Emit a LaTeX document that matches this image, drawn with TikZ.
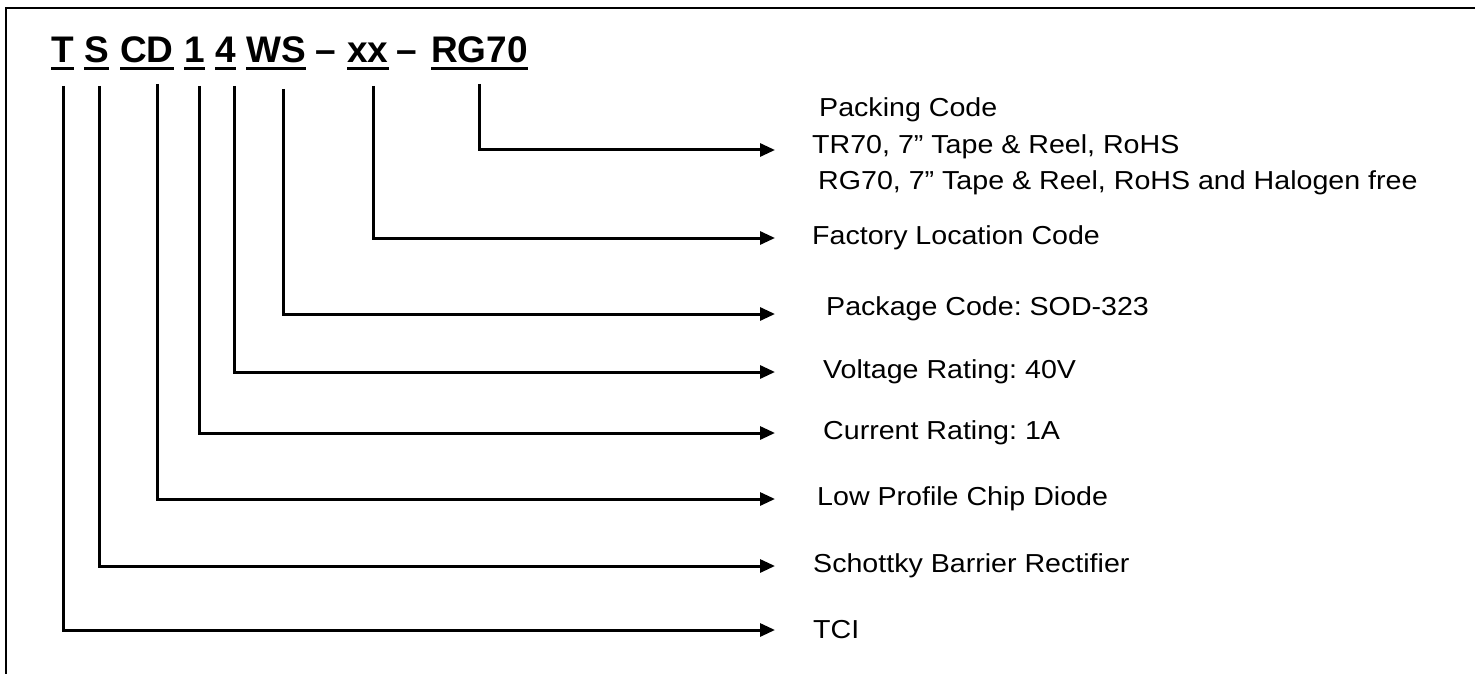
\documentclass[tikz,border=0pt]{standalone}
\usepackage{fontspec}
\setmainfont{Liberation Sans}
\newfontfamily\labfont{Liberation Sans}[FakeStretch=1.1]
\usetikzlibrary{arrows.meta}
\frenchspacing
\begin{document}
\begin{tikzpicture}[x=1pt,y=-1pt,
  code/.style={anchor=base west, inner sep=0pt, font=\fontsize{37}{40}\selectfont\bfseries},
  lab/.style={anchor=west, inner sep=0pt, font=\fontsize{26}{30}\labfont},
  conn/.style={line width=3pt, -{Triangle[length=15pt,width=13pt]}},
  uline/.style={line width=3pt},
  frame/.style={line width=2pt}]
\useasboundingbox (0,0) rectangle (1475,674);
\draw[frame] (6,674) -- (6,8) -- (1475,8);
% code segments
\node[code] (cT)  at (51,63)  {T};
\node[code] (cS)  at (84,63)  {S};
\node[code] (cCD) at (120,63) {CD};
\node[code] (c1)  at (184,63) {1};
\node[code] (c4)  at (215,63) {4};
\node[code] (cWS) at (246,63) {WS};
\node[code] (d1)  at (315,63) {–};
\node[code] (cxx) at (347,63) {xx};
\node[code] (d2)  at (396,63) {–};
\node[code] (cRG) at (431,63) {RG70};
\foreach \n in {cT,cS,cCD,c1,c4,cWS,cxx,cRG}
  \draw[uline] (\n.west |- 0,69) -- (\n.east |- 0,69);
% stub tops
\coordinate (sT)  at (63,86);
\coordinate (sS)  at (99,86);
\coordinate (sCD) at (157,84);
\coordinate (s1)  at (199,86);
\coordinate (s4)  at (234,86);
\coordinate (sWS) at (283,89);
\coordinate (sxx) at (373,86);
\coordinate (sRG) at (479,84);
\coordinate (tip) at (775,0);
% labels
\node[lab] (pk1) at (819,110) {Packing Code};
\node[lab] (pk2) at (812,147) {TR70, 7” Tape \& Reel, RoHS};
\node[lab] (pk3) at (818,183) {RG70, 7” Tape \& Reel, RoHS and Halogen free};
\node[lab] (lxx) at (812,238) {Factory Location Code};
\node[lab] (lWS) at (826,309) {Package Code: SOD-323};
\node[lab] (l4)  at (823,372) {Voltage Rating: 40V};
\node[lab] (l1)  at (823,433) {Current Rating: 1A};
\node[lab] (lCD) at (817,499) {Low Profile Chip Diode};
\node[lab] (lS)  at (813,566) {Schottky Barrier Rectifier};
\node[lab] (lT)  at (813,630) {TCI};
% connectors
\draw[conn] (sRG) |- ([yshift=-3pt]tip |- pk2.west);
\draw[conn] (sxx) |- (tip |- lxx.west);
\draw[conn] (sWS) |- ([yshift=-5pt]tip |- lWS.west);
\draw[conn] (s4)  |- (tip |- l4.west);
\draw[conn] (s1)  |- (tip |- l1.west);
\draw[conn] (sCD) |- (tip |- lCD.west);
\draw[conn] (sS)  |- (tip |- lS.west);
\draw[conn] (sT)  |- (tip |- lT.west);
\end{tikzpicture}
\end{document}
